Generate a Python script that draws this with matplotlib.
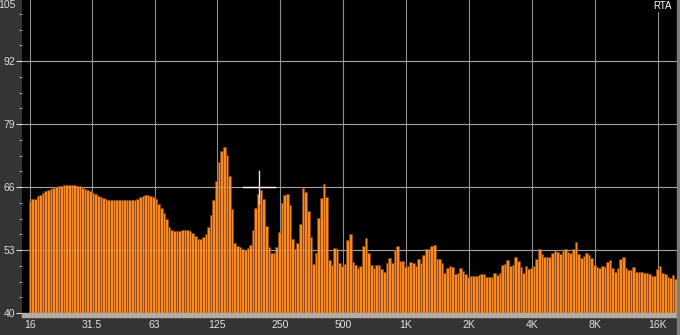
import numpy as np
import matplotlib
matplotlib.use("Agg")
import matplotlib.pyplot as plt
from matplotlib.patches import Rectangle
from matplotlib.transforms import blended_transform_factory
from matplotlib.ticker import NullLocator, FixedLocator

# ---------------- data ----------------
start_freq = 16.0
bands_per_octave = 24
levels_db = [
    63.1, 63.5, 63.5, 64.1, 64.4, 64.8, 65.1, 65.4, 65.6, 65.9,
    66.1, 66.2, 66.3, 66.4, 66.5, 66.5, 66.5, 66.4, 66.3, 66.2,
    65.9, 65.6, 65.4, 65.1, 64.8, 64.5, 64.2, 64.0, 63.7, 63.5,
    63.4, 63.4, 63.4, 63.3, 63.3, 63.3, 63.3, 63.3, 63.3, 63.3,
    63.4, 63.6, 63.9, 64.1, 64.3, 64.3, 64.2, 64.0, 63.5, 62.5,
    61.6, 60.6, 59.3, 57.8, 57.1, 57.0, 57.0, 57.0, 57.1, 57.2,
    57.1, 56.9, 56.5, 55.8, 55.3, 55.2, 55.6, 56.4, 57.8, 60.2,
    63.3, 67.2, 71.1, 73.5, 74.2, 72.6, 68.3, 61.4, 54.5, 53.9,
    53.7, 53.3, 53.1, 53.5, 54.0, 57.2, 61.7, 64.5, 65.3, 63.6,
    58.0, 53.7, 52.3, 52.3, 53.7, 56.8, 62.8, 64.3, 64.5, 62.3,
    55.2, 53.3, 54.4, 58.4, 65.9, 65.0, 61.0, 55.7, 50.2, 52.4,
    59.7, 63.7, 66.7, 64.0, 50.9, 50.0, 53.5, 53.2, 50.4, 49.8,
    50.2, 55.0, 56.4, 50.5, 50.0, 49.2, 49.6, 53.9, 55.4, 52.3,
    49.9, 49.3, 50.0, 49.9, 49.1, 48.5, 50.4, 51.3, 50.4, 53.0,
    53.8, 50.8, 50.8, 49.4, 49.8, 50.6, 50.4, 49.8, 51.1, 50.4,
    52.0, 53.3, 53.3, 53.8, 54.0, 51.1, 51.1, 50.4, 48.2, 49.2,
    49.7, 49.4, 48.0, 48.2, 49.2, 48.7, 48.0, 47.5, 47.7, 47.7,
    47.7, 47.8, 48.0, 48.0, 47.5, 47.5, 47.4, 48.2, 47.8, 48.2,
    49.9, 50.2, 50.9, 49.8, 50.0, 51.6, 50.7, 49.4, 48.2, 49.6,
    49.1, 49.2, 49.6, 51.1, 53.3, 52.2, 51.5, 51.6, 51.6, 52.3,
    52.8, 52.5, 52.1, 52.8, 53.3, 52.5, 52.4, 53.2, 54.7, 52.1,
    51.3, 51.8, 52.4, 52.0, 51.3, 50.0, 49.4, 49.2, 49.6, 49.4,
    50.6, 50.9, 49.2, 48.5, 49.2, 51.1, 51.5, 49.2, 48.9, 48.9,
    49.4, 48.5, 48.5, 48.5, 48.2, 48.2, 48.0, 47.7, 47.7, 49.1,
    49.6, 48.2, 48.0, 47.5, 47.2, 47.8, 47.0,
]
grid_freqs = [16, 31.5, 63, 125, 250, 500, 1000, 2000, 4000, 8000, 16000]
grid_labels = ["16", "31.5", "63", "125", "250", "500", "1K", "2K", "4K", "8K", "16K"]
y_ticks = [40, 53, 66, 79, 92]
y_top_label = 105
y_floor = 40
y_max = 104.6
cursor_freq = 199.0
cursor_db = 66.0

# ---------------- figure ----------------
plt.rcParams['font.family'] = ['Liberation Sans', 'DejaVu Sans']
W, H = 680, 335
fig = plt.figure(figsize=(W / 100, H / 100), dpi=100, facecolor='#343434')
ax = fig.add_axes([22 / W, 22 / H, 655 / W, 313 / H])
ax.set_facecolor('black')

n = len(levels_db)
idx = np.arange(n)
centers = start_freq * 2 ** (idx / bands_per_octave)
lefts = centers * 2 ** (-0.5 / bands_per_octave)
rights = centers * 2 ** (0.5 / bands_per_octave)
heights = np.array(levels_db) - y_floor

ax.set_xscale('log')
ax.bar(lefts, heights, width=rights - lefts, bottom=y_floor, align='edge',
       color='#f88b20', edgecolor='#8a4217', linewidth=0.5, zorder=2)

ax.set_xlim(start_freq * 2 ** (-8 / 63), rights[-1])
ax.set_ylim(y_floor, y_max)

# grid
for f in grid_freqs:
    ax.axvline(f, color='#8f8f8f', lw=0.8, zorder=1)
for y in y_ticks[1:] + [y_top_label]:
    ax.axhline(y, color='#8f8f8f', lw=0.8, zorder=1)
    ax.axhline(y, color='white', lw=0.8, alpha=0.18, zorder=3)

# cursor crosshair
ax.plot([cursor_freq * 2 ** -0.25, cursor_freq * 2 ** 0.25], [cursor_db, cursor_db],
        color='white', lw=1.0, zorder=5)
ax.plot([cursor_freq, cursor_freq], [cursor_db - 3.3, cursor_db + 3.3],
        color='#e8e8e8', lw=1.0, zorder=5)

# ticks
ax.xaxis.set_minor_locator(NullLocator())
ax.set_xticks(grid_freqs)
ax.set_xticklabels(grid_labels)
ax.tick_params(axis='x', length=0, pad=5, labelsize=7.5, colors='#e2e2e2')
ax.set_yticks(y_ticks)
ax.set_yticklabels([str(v) for v in y_ticks])
minor_y = [v for v in np.arange(y_floor, y_max, 3.25) if v not in y_ticks]
ax.yaxis.set_minor_locator(FixedLocator(minor_y))
ax.tick_params(axis='y', which='major', length=4, width=0.8, pad=1,
               labelsize=7.5, colors='#dcdcdc')
ax.tick_params(axis='y', which='minor', length=2, width=0.8, colors='#9a9a9a')
for s in ax.spines.values():
    s.set_visible(False)

# top label (in the reference it sits right at the upper edge)
fig.text(16 / W, 1.0, str(y_top_label), ha='right', va='top',
         fontsize=7.5, color='#dcdcdc')

# frame decorations
fig.add_artist(Rectangle((22 / W, (H - 316.5) / H), 655 / W, 3.5 / H,
                         transform=fig.transFigure, color='#b3aca4', zorder=10))
fig.add_artist(Rectangle((677 / W, 0), 3 / W, 1, transform=fig.transFigure,
                         color='#7c7c7c', zorder=10))

fig.text(662 / W, 1 - 6 / H, 'RTA', ha='center', va='center', color='white',
         fontsize=7, zorder=11,
         bbox=dict(facecolor='black', edgecolor='none', pad=1.0))

fig.savefig('out.png', dpi=100, facecolor=fig.get_facecolor())
